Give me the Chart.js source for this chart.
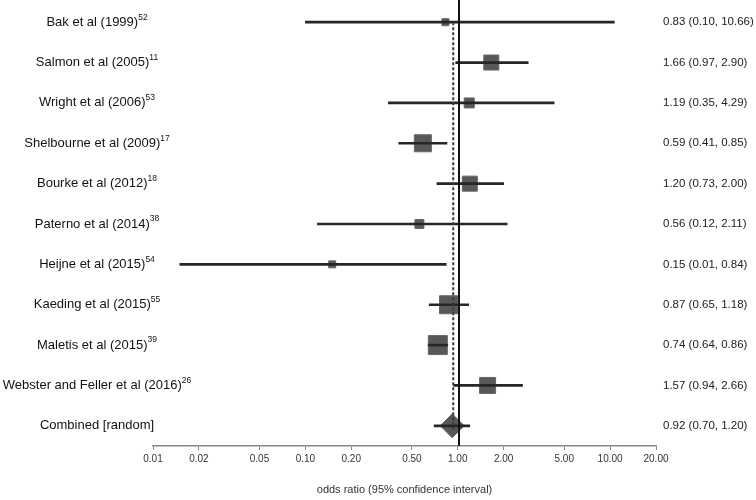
<!DOCTYPE html>
<html>
<head>
<meta charset="utf-8">
<script src="https://cdn.jsdelivr.net/npm/chart.js@4"></script>
<style>
  body { margin: 0; background: #fff; }
  #wrap { width: 756px; height: 500px; position: relative; }
</style>
</head>
<body>
<div id="wrap"><canvas id="forest"></canvas></div>
<script>
// studies and reference numbers (superscripts)
var studies = ["Bak et al (1999)", "Salmon et al (2005)", "Wright et al (2006)", "Shelbourne et al (2009)",
  "Bourke et al (2012)", "Paterno et al (2014)", "Heijne et al (2015)", "Kaeding et al (2015)",
  "Maletis et al (2015)", "Webster and Feller et al (2016)", "Combined [random]"];
var refs = ["52", "11", "53", "17", "18", "38", "54", "55", "39", "26", ""];

// odds ratio and 95% CI
var oddsRatio = [0.83, 1.66, 1.19, 0.59, 1.20, 0.56, 0.15, 0.87, 0.74, 1.57, 0.92];
var ciLow = [0.10, 0.97, 0.35, 0.41, 0.73, 0.12, 0.015, 0.65, 0.64, 0.94, 0.70];
var ciHigh = [10.66, 2.90, 4.29, 0.85, 2.00, 2.11, 0.84, 1.18, 0.86, 2.66, 1.20];
var estimateText = ["0.83 (0.10, 10.66)", "1.66 (0.97, 2.90)", "1.19 (0.35, 4.29)", "0.59 (0.41, 0.85)",
  "1.20 (0.73, 2.00)", "0.56 (0.12, 2.11)", "0.15 (0.01, 0.84)", "0.87 (0.65, 1.18)",
  "0.74 (0.64, 0.86)", "1.57 (0.94, 2.66)", "0.92 (0.70, 1.20)"];
// study weights (%)
var weights = [2.5, 11.5, 5.1, 14.8, 11.5, 4.1, 2.5, 16.5, 18.4, 13.1];

var xTicks = [0.01, 0.02, 0.05, 0.10, 0.20, 0.50, 1, 2, 5, 10, 20];
var nullValue = 1;
var pooledValue = 0.92;

var nStudies = weights.length;

// box side ~ sqrt(weight)
function boxRadius(w) {
  var side = Math.sqrt(w * 19.6);
  return side / Math.SQRT2;
}

var studyPoints = [];
for (var i = 0; i < nStudies; i++) {
  studyPoints.push({ x: oddsRatio[i], y: studies[i] });
}

// labels left + estimates right + reference lines
var forestText = {
  id: "forestText",
  afterDatasetsDraw: function (chart) {
    var ctx = chart.ctx;
    var xs = chart.scales.x;
    var ys = chart.scales.y;
    var area = chart.chartArea;

    ctx.save();
    // line of no effect
    var x1 = Math.round(xs.getPixelForValue(nullValue)) + 1;
    ctx.strokeStyle = "#111";
    ctx.lineWidth = 2;
    ctx.beginPath();
    ctx.moveTo(x1, 0);
    ctx.lineTo(x1, area.bottom);
    ctx.stroke();

    // pooled estimate (dotted)
    var xp = xs.getPixelForValue(pooledValue) + 1;
    ctx.setLineDash([3, 2]);
    ctx.lineWidth = 2;
    ctx.strokeStyle = "#3a3a3a";
    ctx.beginPath();
    ctx.moveTo(xp, ys.getPixelForValue(0));
    ctx.lineTo(xp, ys.getPixelForValue(studies.length - 1) + 4);
    ctx.stroke();
    ctx.setLineDash([]);

    ctx.textBaseline = "middle";
    for (var i = 0; i < studies.length; i++) {
      var y = ys.getPixelForValue(i);
      ctx.font = "13px 'Liberation Sans', Arial, sans-serif";
      var w1 = ctx.measureText(studies[i]).width;
      ctx.font = "8.5px 'Liberation Sans', Arial, sans-serif";
      var w2 = refs[i] ? ctx.measureText(refs[i]).width : 0;
      var left = 97 - (w1 + w2) / 2;
      ctx.fillStyle = "#111";
      ctx.textAlign = "left";
      ctx.font = "13px 'Liberation Sans', Arial, sans-serif";
      ctx.fillText(studies[i], left, y);
      if (refs[i]) {
        ctx.font = "8.5px 'Liberation Sans', Arial, sans-serif";
        ctx.fillText(refs[i], left + w1, y - 5);
      }
      ctx.font = "11.5px 'Liberation Sans', Arial, sans-serif";
      ctx.fillStyle = "#222";
      ctx.fillText(estimateText[i], 663, y);
    }
    ctx.restore();
  }
};

var ctx = document.getElementById("forest").getContext("2d");
var forestChart = new Chart(ctx, {
  type: "bar",
  data: {
    labels: studies,
    datasets: [
      {
        // confidence intervals, drawn over the boxes
        type: "bar",
        indexAxis: "y",
        data: ciLow.map(function (lo, i) { return [lo, ciHigh[i]]; }),
        backgroundColor: "#262626",
        barThickness: 2,
        order: 0,
      },
      {
        type: "scatter",
        data: studyPoints,
        pointStyle: "rect",
        pointRadius: weights.map(boxRadius),
        backgroundColor: "#585858",
        borderColor: "#666666",
        borderWidth: 1,
        order: 2,
      },
      {
        type: "scatter",
        data: [{ x: oddsRatio[nStudies], y: studies[nStudies] }],
        pointStyle: "rectRot",
        pointRadius: 12,
        backgroundColor: "#585858",
        borderColor: "#666666",
        borderWidth: 1,
        order: 1,
      },
    ],
  },
  options: {
    responsive: true,
    maintainAspectRatio: false,
    animation: false,
    events: [],
    layout: { autoPadding: false, padding: { left: 153, right: 100, top: 2, bottom: 0 } },
    plugins: { legend: { display: false }, tooltip: { enabled: false } },
    scales: {
      y: {
        type: "category",
        offset: true,
        display: false,
      },
      x: {
        type: "logarithmic",
        min: 0.01,
        max: 20,
        offset: false,
        afterBuildTicks: function (scale) {
          scale.ticks = xTicks.map(function (v) { return { value: v }; });
        },
        afterFit: function (scale) {
          scale.height = 54;
        },
        ticks: {
          autoSkip: false,
          maxRotation: 0,
          padding: 3,
          color: "#333",
          font: { size: 10, family: "'Liberation Sans', Arial, sans-serif" },
          callback: function (v) { return Number(v).toFixed(2); },
        },
        grid: {
          offset: false,
          drawOnChartArea: false,
          drawTicks: true,
          tickLength: 4,
          color: "#888",
        },
        border: { display: true, color: "#888", width: 1.5 },
        title: {
          display: true,
          text: "odds ratio (95% confidence interval)",
          color: "#333",
          font: { size: 11, family: "'Liberation Sans', Arial, sans-serif" },
          padding: { top: 0, bottom: 3 },
        },
      },
    },
  },
  plugins: [forestText],
});
</script>
</body>
</html>
